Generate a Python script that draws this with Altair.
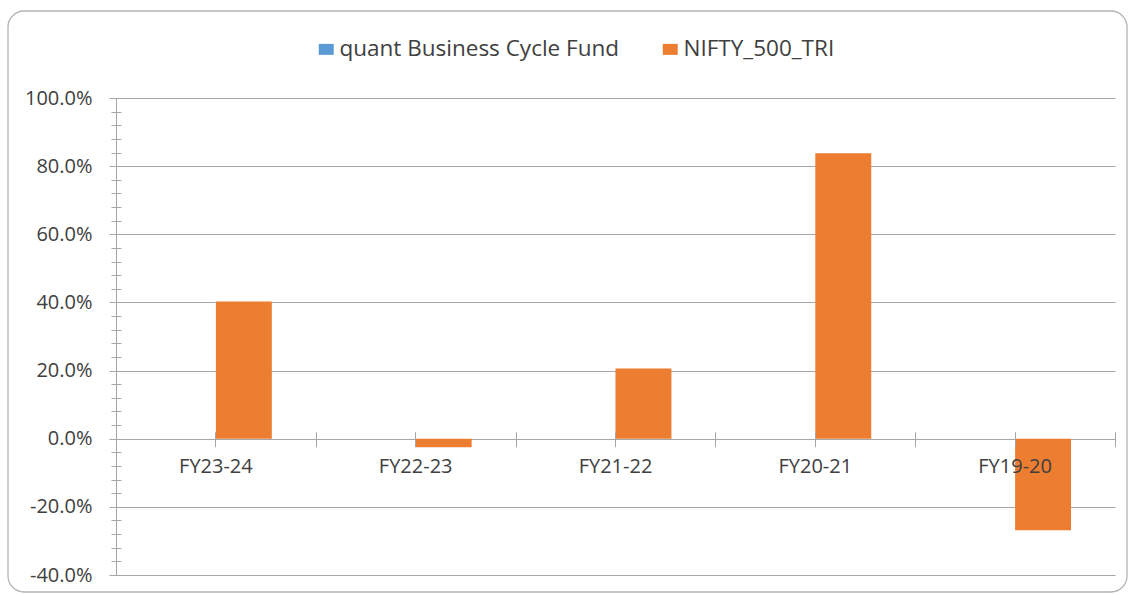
import altair as alt
import pandas as pd

# ---- data ----
categories = ["FY23-24", "FY22-23", "FY21-22", "FY20-21", "FY19-20"]
series_names = ["quant Business Cycle Fund", "NIFTY_500_TRI"]
fund_values = [None, None, None, None, None]
nifty_values = [0.403, -0.025, 0.206, 0.838, -0.269]
series_colors = ["#5B9BD5", "#ED7D31"]
y_major_ticks = [-0.4, -0.2, 0.0, 0.2, 0.4, 0.6, 0.8, 1.0]
y_minor_ticks = [round(-0.4 + 0.04 * i, 2) for i in range(36)]

rows = []
for c, f, n in zip(categories, fund_values, nifty_values):
    rows.append({"period": c, "series": series_names[0], "value": f})
    rows.append({"period": c, "series": series_names[1], "value": n})
df = pd.DataFrame(rows)

# ---- layout ----
W, H = 999, 477
PL, PT = 116, 98
Y_MIN, Y_MAX = -0.4, 1.0
zero_off = -H * (0 - Y_MIN) / (Y_MAX - Y_MIN)

FONT = "Open Sans"
GRID = "#a6a6a6"
TEXT = "#404040"
LEGEND_SHAPE = "M-1.36,-1L1.36,-1L1.36,1L-1.36,1Z"

x_scale = alt.Scale(domain=categories, paddingInner=0, paddingOuter=0)
y_scale = alt.Scale(domain=[Y_MIN, Y_MAX], nice=False, zero=False)

bars = alt.Chart(df).mark_bar().encode(
    x=alt.X(
        "period:N", scale=x_scale, sort=categories,
        axis=alt.Axis(orient="bottom", offset=zero_off - 7, title=None, domain=False,
                      tickBand="center", tickSize=15, tickColor=GRID, tickWidth=1,
                      labelPadding=10, labelFont=FONT, labelFontSize=20,
                      labelColor=TEXT, labelAngle=0, grid=False, zindex=1),
    ),
    xOffset=alt.XOffset("series:N",
                        scale=alt.Scale(domain=series_names, paddingInner=0, paddingOuter=0.786)),
    y=alt.Y(
        "value:Q", scale=y_scale,
        axis=alt.Axis(orient="left", values=y_major_ticks, title=None,
                      labelExpr="replace(format(datum.value, '.1%'), '\u2212', '-')",
                      grid=True, gridColor=GRID, gridWidth=1, domain=True, domainColor=GRID,
                      tickColor=GRID, tickSize=7, labelPadding=17, labelFont=FONT,
                      labelFontSize=20, labelColor=TEXT),
    ),
    color=alt.Color(
        "series:N",
        scale=alt.Scale(domain=series_names, range=series_colors),
        legend=alt.Legend(orient="none", legendX=199, legendY=-60, direction="horizontal",
                          title=None, symbolType=LEGEND_SHAPE, symbolSize=121,
                          symbolStrokeWidth=0, labelFont=FONT, labelFontSize=22.5,
                          labelColor=TEXT, labelOffset=2, columnPadding=39,
                          labelLimit=0),
    ),
)

minor = alt.Chart(df).mark_point(opacity=0).encode(
    x=alt.X(
        "period:N", scale=x_scale, sort=categories,
        axis=alt.Axis(orient="bottom", offset=zero_off - 7, title=None, domain=False,
                      labels=False, tickBand="extent", tickSize=15, tickColor=GRID,
                      grid=False, zindex=1),
    ),
    y=alt.Y(
        "value:Q", scale=y_scale,
        axis=alt.Axis(orient="left", values=y_minor_ticks, offset=-5, title=None,
                      labels=False, domain=False, grid=False, tickSize=10,
                      tickColor=GRID),
    ),
)

border = alt.Chart(pd.DataFrame({"k": [0]})).mark_rect(
    fill="transparent", stroke="#b4b4b4", strokeWidth=1.3, cornerRadius=16
).encode(
    x=alt.value(-108), x2=alt.value(1011), y=alt.value(-87), y2=alt.value(494)
)

chart = alt.layer(border, bars, minor).resolve_axis(
    x="independent", y="independent"
).properties(
    width=W, height=H,
    padding={"left": PL, "top": PT, "right": 1129 - PL - W, "bottom": 595 - PT - H},
    autosize=alt.AutoSizeParams(type="none"),
    background="white",
).configure_view(strokeWidth=0)

chart.save("out.html", embed_options={"renderer": "svg", "actions": False})
